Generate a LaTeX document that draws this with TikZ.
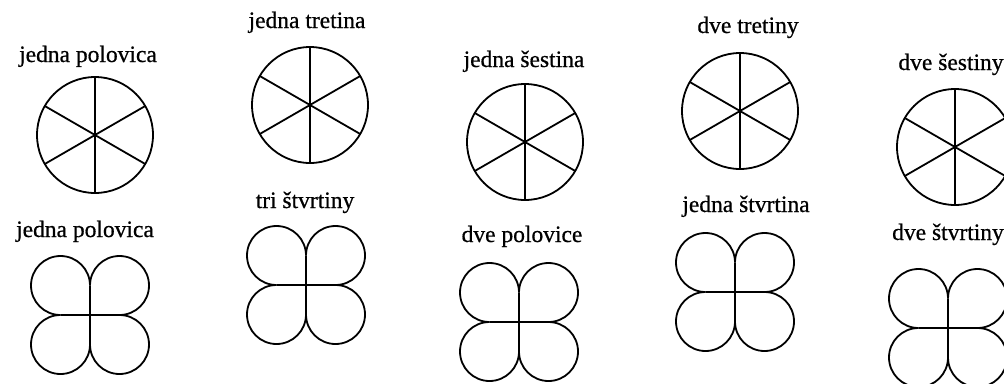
\documentclass[tikz,border=0pt]{standalone}
\usepackage{fontspec}
\newfontfamily\popisfont{Liberation Serif}[FakeBold=0.6]
\usepackage{tikz}

\tikzset{
  popis/.style={anchor=base, inner sep=0pt, font=\popisfont\fontsize{23.5}{28}\selectfont},
  ciara/.style={line width=1.8pt, line join=round},
  kruh/.pic={
    \draw[ciara] (0,0) circle (58pt);
    \draw[ciara] (90:58pt) -- (270:58pt);
    \draw[ciara] (30:58pt) -- (210:58pt);
    \draw[ciara] (150:58pt) -- (330:58pt);
  },
  listok/.pic={
    \draw[ciara] (-29.5pt,0) -- (29.5pt,0);
    \draw[ciara] (0,-29.5pt) -- (0,29.5pt);
    \draw[ciara] (0,29.5pt) arc[start angle=180, end angle=-90, radius=29.5pt];
    \draw[ciara] (0,29.5pt) arc[start angle=0, end angle=270, radius=29.5pt];
    \draw[ciara] (0,-29.5pt) arc[start angle=0, end angle=-270, radius=29.5pt];
    \draw[ciara] (0,-29.5pt) arc[start angle=180, end angle=450, radius=29.5pt];
  }
}

\begin{document}
\begin{tikzpicture}[x=1pt, y=1pt]
            \clip (0,0) rectangle (1004,-383);
            \fill[white] (0,0) rectangle (1004,-383);

            % Stredy kruhov
            \coordinate (K1) at (95,-135);
            \coordinate (K2) at (310,-105);
            \coordinate (K3) at (525,-142);
            \coordinate (K4) at (740,-111);
            \coordinate (K5) at (955,-147);

            % Stredy listkov
            \coordinate (L1) at (90,-315);
            \coordinate (L2) at (306,-285);
            \coordinate (L3) at (519,-322);
            \coordinate (L4) at (735,-292);
            \coordinate (L5) at (948,-328);

            % Kruhy
            \pic at (K1) {kruh};
            \pic at (K2) {kruh};
            \pic at (K3) {kruh};
            \pic at (K4) {kruh};
            \pic at (K5) {kruh};

            % Stvorlistky
            \pic at (L1) {listok};
            \pic at (L2) {listok};
            \pic at (L3) {listok};
            \pic at (L4) {listok};
            \pic at (L5) {listok};

            % Popisy
            \node[popis] (p1) at (88,-62) {jedna polovica};
            \node[popis] (p2) at (307,-28) {jedna tretina};
            \node[popis] (p3) at (524,-67) {jedna šestina};
            \node[popis] (p4) at (748,-33) {dve tretiny};
            \node[popis] (p5) at (951,-70) {dve šestiny};
            \node[popis] (q1) at (85,-237) {jedna polovica};
            \node[popis] (q2) at (305,-208) {tri štvrtiny};
            \node[popis] (q3) at (522,-242) {dve polovice};
            \node[popis] (q4) at (746,-212) {jedna štvrtina};
            \node[popis] (q5) at (948,-240) {dve štvrtiny};
        \end{tikzpicture}
\end{document}
